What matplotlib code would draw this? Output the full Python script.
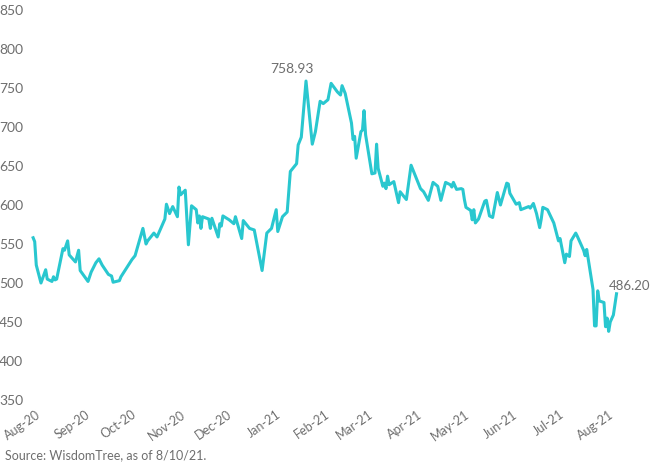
import pandas as pd
import matplotlib.pyplot as plt
import matplotlib.dates as mdates
import matplotlib.transforms as mtransforms

# -------------------------------
# Data
# -------------------------------
dates = [
    "2020-08-03", "2020-08-04", "2020-08-05", "2020-08-08", "2020-08-11", "2020-08-12",
    "2020-08-15", "2020-08-16", "2020-08-17", "2020-08-18", "2020-08-22", "2020-08-23",
    "2020-08-25", "2020-08-26", "2020-08-30", "2020-09-01", "2020-09-02", "2020-09-07",
    "2020-09-09", "2020-09-12", "2020-09-14", "2020-09-16", "2020-09-20", "2020-09-22",
    "2020-09-23", "2020-09-27", "2020-09-28", "2020-10-05", "2020-10-07", "2020-10-12",
    "2020-10-14", "2020-10-15", "2020-10-19", "2020-10-21", "2020-10-26", "2020-10-27",
    "2020-10-29", "2020-10-31", "2020-11-03", "2020-11-04", "2020-11-05", "2020-11-08",
    "2020-11-10", "2020-11-12", "2020-11-15", "2020-11-16", "2020-11-17", "2020-11-18",
    "2020-11-19", "2020-11-23", "2020-11-24", "2020-11-25", "2020-11-29", "2020-11-30",
    "2020-12-01", "2020-12-02", "2020-12-06", "2020-12-09", "2020-12-10", "2020-12-14",
    "2020-12-15", "2020-12-19", "2020-12-22", "2020-12-27", "2020-12-30", "2021-01-02",
    "2021-01-05", "2021-01-06", "2021-01-09", "2021-01-12", "2021-01-14", "2021-01-18",
    "2021-01-19", "2021-01-21", "2021-01-24", "2021-01-28", "2021-01-30", "2021-02-02",
    "2021-02-04", "2021-02-07", "2021-02-09", "2021-02-13", "2021-02-15", "2021-02-16",
    "2021-02-18", "2021-02-22", "2021-02-23", "2021-02-24", "2021-02-25", "2021-02-28",
    "2021-03-01", "2021-03-02", "2021-03-03", "2021-03-07", "2021-03-09", "2021-03-10",
    "2021-03-11", "2021-03-14", "2021-03-15", "2021-03-16", "2021-03-17", "2021-03-18",
    "2021-03-21", "2021-03-24", "2021-03-25", "2021-03-29", "2021-04-01", "2021-04-07",
    "2021-04-09", "2021-04-12", "2021-04-14", "2021-04-15", "2021-04-18", "2021-04-20",
    "2021-04-23", "2021-04-26", "2021-04-27", "2021-04-28", "2021-04-30", "2021-05-03",
    "2021-05-04", "2021-05-05", "2021-05-06", "2021-05-09", "2021-05-10", "2021-05-11",
    "2021-05-12", "2021-05-14", "2021-05-18", "2021-05-19", "2021-05-21", "2021-05-23",
    "2021-05-26", "2021-05-28", "2021-06-01", "2021-06-02", "2021-06-03", "2021-06-07",
    "2021-06-09", "2021-06-10", "2021-06-15", "2021-06-16", "2021-06-18", "2021-06-20",
    "2021-06-22", "2021-06-23", "2021-06-24", "2021-06-27", "2021-07-01", "2021-07-04",
    "2021-07-05", "2021-07-08", "2021-07-09", "2021-07-11", "2021-07-12", "2021-07-15",
    "2021-07-16", "2021-07-20", "2021-07-21", "2021-07-22", "2021-07-26", "2021-07-27",
    "2021-07-28", "2021-07-29", "2021-07-30", "2021-08-02", "2021-08-03", "2021-08-04",
    "2021-08-05", "2021-08-06", "2021-08-08", "2021-08-10",
]
values = [
    558, 553, 523, 500, 517, 505,
    502, 508, 504, 505, 544, 542,
    554, 536, 527, 542, 516, 502,
    514, 526, 531, 523, 511, 509,
    501, 503, 508, 530, 535, 570,
    550, 554, 564, 559, 582, 601,
    589, 598, 585, 623, 613, 619,
    549, 599, 594, 577, 586, 570,
    585, 582, 570, 583, 559, 576,
    573, 586, 581, 576, 585, 557,
    580, 570, 568, 516, 564, 570,
    594, 566, 585, 591, 643, 653,
    677, 687, 758.93, 678, 694, 733,
    730, 735, 756, 745, 741, 753,
    743, 705, 684, 688, 660, 694,
    696, 721, 690, 640, 641, 678,
    647, 624, 628, 621, 637, 626,
    630, 603, 617, 607, 651, 621,
    617, 606, 621, 629, 624, 606,
    629, 626, 623, 629, 620, 621,
    620, 607, 597, 593, 581, 594,
    577, 582, 605, 606, 586, 584,
    616, 600, 628, 627, 615, 601,
    603, 594, 598, 596, 602, 589,
    571, 582, 597, 594, 577, 554,
    557, 526, 537, 534, 554, 564,
    560, 542, 535, 543, 492, 445,
    445, 490, 477, 475, 444, 455,
    438, 450, 459, 486.20,
]
tick_months = pd.date_range("2020-08-01", "2021-08-01", freq="MS")
source_text = "Source: WisdomTree, as of 8/10/21."

x = pd.to_datetime(dates)
line_color = "#29c7cf"
text_color = "#6e6e6e"

plt.rcParams['font.family'] = ['Lato', 'DejaVu Sans']

fig = plt.figure(figsize=(6.5, 4.68), dpi=100)
ax = fig.add_axes([30 / 650, 1 - 400 / 468, 600 / 650, 390 / 468])

ax.plot(x, values, color=line_color, lw=2.2, solid_joinstyle='round')

ax.set_ylim(350, 850)
ax.set_yticks(range(350, 851, 50))
ax.set_xlim(pd.Timestamp("2020-08-01"), pd.Timestamp("2020-08-01") + pd.Timedelta(days=382.6))
ax.set_xticks(tick_months)
ax.xaxis.set_major_formatter(mdates.DateFormatter("%b-%y"))

for s in ax.spines.values():
    s.set_visible(False)
ax.tick_params(length=0, colors=text_color, labelsize=10)
ax.tick_params(axis='y', pad=5)
ax.tick_params(axis='x', labelsize=9, pad=6)

offset = mtransforms.ScaledTranslation(6 / 100, 0, fig.dpi_scale_trans)
for lbl in ax.get_xticklabels():
    lbl.set_rotation(35)
    lbl.set_ha('right')
    lbl.set_rotation_mode('anchor')
    lbl.set_transform(lbl.get_transform() + offset)

# peak and last value labels
peak_i = values.index(max(values))
ax.annotate(f"{values[peak_i]:.2f}", (x[peak_i], values[peak_i]), xytext=(-14, 12),
            textcoords='offset pixels', ha='center', va='center',
            fontsize=10, color=text_color)
ax.annotate(f"{values[-1]:.2f}", (x[-1], values[-1]), xytext=(-8, 8),
            textcoords='offset pixels', ha='left', va='center',
            fontsize=9.5, color=text_color)

fig.text(5 / 650, 1 - 455 / 468, source_text, fontsize=9, color=text_color,
         ha='left', va='center')

fig.savefig("out.png", dpi=100)
